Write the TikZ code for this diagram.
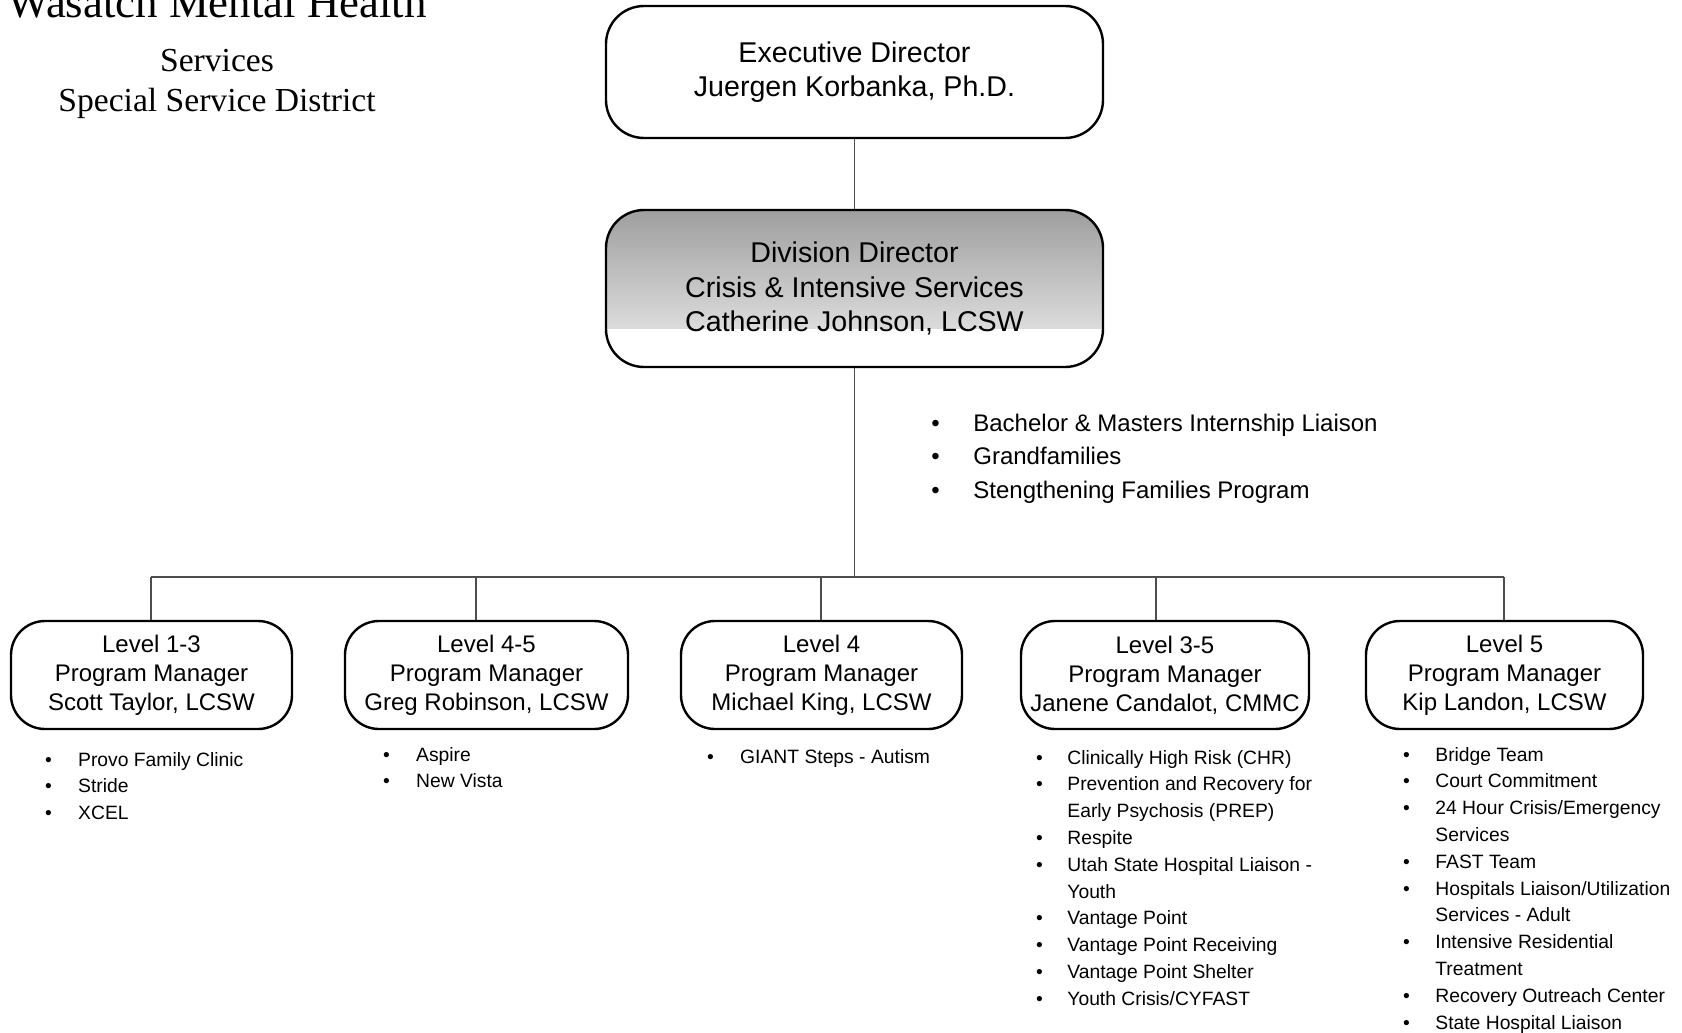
\documentclass[tikz,border=0pt]{standalone}
\usepackage{fontspec}
\setmainfont{Liberation Sans}
\newfontfamily\titlefont{Liberation Serif}
\usepackage{xcolor}
\definecolor{linkgray}{HTML}{4d4d4d}

\newcommand{\dutylist}[2]{\begin{tabular}[t]{@{}p{#1}@{}l@{}}#2\end{tabular}}

\tikzset{
  boss/.style={draw, line width=1.2pt, rounded corners=19pt, align=center,
    minimum width=248.5pt, inner sep=0pt},
  mgr/.style={draw, line width=1.2pt, rounded corners=17pt, align=center,
    minimum height=54pt, inner sep=0pt, font=\fontsize{12}{14.5}\selectfont},
  link/.style={line width=0.75pt, linkgray},
  duties/.style={anchor=base west, inner sep=0pt, font=\fontsize{9.65}{13.4}\selectfont},
}

\begin{document}
\begin{tikzpicture}[x=0.5pt,y=-0.5pt]
  \useasboundingbox (0,0) rectangle (1682,1033);

  % heading
  \node[anchor=base, inner sep=0pt, font=\titlefont\fontsize{22.4}{26}\selectfont] (org) at (217,18) {Wasatch Mental Health};
  \node[anchor=base, inner sep=0pt, font=\titlefont\fontsize{16.8}{20}\selectfont] (svc) at (217,71) {Services};
  \node[anchor=base, inner sep=0pt, font=\titlefont\fontsize{16.8}{20}\selectfont] (ssd) at (217,111.5) {Special Service District};

  % directors
  \node[boss, minimum height=66pt, font=\fontsize{14.3}{18}\selectfont] (exec) at (854.5,72)
    {\raisebox{-1pt}{Executive Director}\\Juergen Korbanka, Ph.D.};
  \node[boss, minimum height=78.5pt, fill=white, font=\fontsize{14.3}{17.4}\selectfont,
    path picture={\shade[sharp corners, top color=black!38, bottom color=black!6]
      (path picture bounding box.north west) rectangle ([yshift=19.5pt]path picture bounding box.south east);}]
    (div) at (854.5,288.5)
    {Division Director\\Crisis \& Intensive Services\\Catherine Johnson, LCSW};

  % program managers
  \node[mgr, minimum width=140.5pt] (m1) at (151.5,675) {Level 1-3\\Program Manager\\Scott Taylor, LCSW};
  \node[mgr, minimum width=141.5pt] (m2) at (486.5,675) {Level 4-5\\Program Manager\\Greg Robinson, LCSW};
  \node[mgr, minimum width=140.5pt] (m3) at (821.5,675) {Level 4\\Program Manager\\Michael King, LCSW};
  \node[mgr, minimum width=144pt]   (m4) at (1165,675)  {Level 3-5\\Program Manager\\Janene Candalot, CMMC};
  \node[mgr, minimum width=138.5pt] (m5) at (1504.5,675) {Level 5\\Program Manager\\Kip Landon, LCSW};

  % connectors
  \coordinate (busL) at (151,577);
  \coordinate (busR) at (1504,577);
  \draw[link] (exec) -- (div);
  \draw[link] (div.south) -- (div.south |- busL);
  \draw[link] (busL) -- (busR);
  \foreach \xx/\mm in {151/m1, 476/m2, 821/m3, 1156/m4, 1504/m5}{
    \coordinate (tap) at (\xx,577);
    \draw[link] (tap) -- (tap |- \mm.north);
  }

  % duties
  \node[duties, font=\fontsize{12}{16.75}\selectfont] (divtasks) at (931,431)
    {\dutylist{21pt}{• & Bachelor \& Masters Internship Liaison\\
                     • & Grandfamilies\\
                     • & Stengthening Families Program}};
  \node[duties] (tasks1) at (44.6,766)
    {\dutylist{16.6pt}{• & Provo Family Clinic\\ • & Stride\\ • & XCEL}};
  \node[duties] (tasks2) at (382.6,761)
    {\dutylist{16.6pt}{• & Aspire\\ • & New Vista}};
  \node[duties] (tasks3) at (706.6,763)
    {\dutylist{16.6pt}{• & GIANT Steps - Autism}};
  \node[duties] (tasks4) at (1035.6,764)
    {\dutylist{15.7pt}{• & Clinically High Risk (CHR)\\
                       • & Prevention and Recovery for\\
                         & Early Psychosis (PREP)\\
                       • & Respite\\
                       • & Utah State Hospital Liaison -\\
                         & Youth\\
                       • & Vantage Point\\
                       • & Vantage Point Receiving\\
                       • & Vantage Point Shelter\\
                       • & Youth Crisis/CYFAST}};
  \node[duties] (tasks5) at (1402.6,761)
    {\dutylist{16.2pt}{• & Bridge Team\\
                       • & Court Commitment\\
                       • & 24 Hour Crisis/Emergency\\
                         & Services\\
                       • & FAST Team\\
                       • & Hospitals Liaison/Utilization\\
                         & Services - Adult\\
                       • & Intensive Residential\\
                         & Treatment\\
                       • & Recovery Outreach Center\\
                       • & State Hospital Liaison}};
\end{tikzpicture}
\end{document}
